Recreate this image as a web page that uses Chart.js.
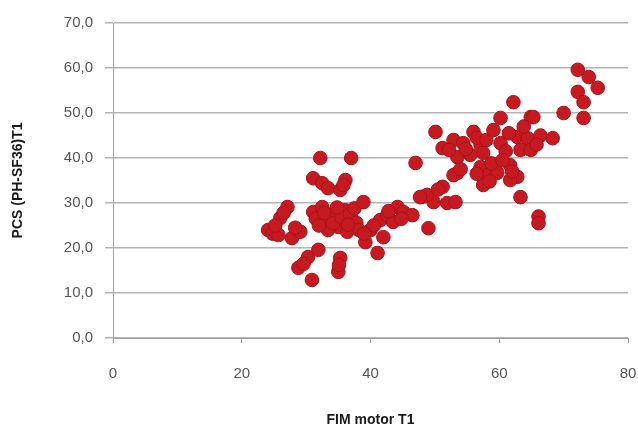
<!DOCTYPE html>
<html>
<head>
<meta charset="utf-8">
<script src="https://cdn.jsdelivr.net/npm/chart.js@4/dist/chart.umd.min.js"></script>
<style>
  html, body { margin: 0; padding: 0; background: #fff; }
  #wrap { width: 638px; height: 428px; }
</style>
</head>
<body>
<div id="wrap"><canvas id="myChart" width="638" height="428"></canvas></div>
<script>
// FIM motor T1 (x) vs PCS (PH-SF36)T1 (y)
var fimMotor = [
  24.1, 24.8, 25.7, 26.0, 27.1, 26.5, 27.8, 29.1, 28.3, 25.2,
  28.8, 30.3, 31.9, 30.9, 29.6,
  35.3, 35.0, 35.1,
  32.2, 37.0, 31.1, 32.5, 33.4, 36.1, 35.3, 35.8,
  31.1, 32.5, 33.0, 34.5, 36.1, 37.2, 35.0, 36.4, 33.4, 31.5, 32.0, 33.8, 34.2, 35.5, 36.8, 37.8, 38.2, 32.8, 34.8, 36.5, 37.5,
  38.9, 40.0, 39.2, 41.1, 42.0, 41.5, 42.6, 43.5, 44.2, 45.1, 46.5, 40.5, 39.0, 44.8, 42.8,
  47.0, 48.1, 49.8, 51.9, 53.2, 48.8, 49.0, 47.7,
  50.1, 51.2, 52.9, 54.4, 56.0, 57.1, 57.5, 55.5, 53.5, 52.2, 54.8, 56.5, 58.0,
  53.5, 51.2, 52.9, 54.0, 50.5,
  59.1, 60.2, 62.2, 64.9, 60.2, 62.8, 64.4, 63.3, 64.9, 61.5, 63.8, 65.3, 66.4, 68.3, 65.8, 61.0,
  57.1, 58.2, 57.5, 59.7, 61.7, 62.8, 61.7, 63.3, 58.8, 60.5, 62.0, 58.5, 56.5,
  66.1, 66.1,
  70.0, 72.2, 73.9, 75.3, 72.2, 73.1, 73.1
];
var pcs = [
  24.0, 23.2, 22.9, 26.7, 29.1, 27.8, 22.2, 23.6, 24.5, 25.0,
  15.6, 18.0, 19.6, 12.9, 16.5,
  17.8, 14.7, 16.2,
  40.0, 40.0, 35.5, 34.4, 33.3, 35.1, 32.9, 34.0,
  28.0, 29.1, 26.2, 28.0, 28.4, 26.2, 24.7, 23.6, 24.0, 26.5, 25.0, 27.2, 25.5, 26.8, 27.5, 25.6, 24.0, 27.8, 29.0, 25.2, 28.8,
  30.2, 24.0, 21.3, 18.9, 22.4, 26.2, 27.3, 25.8, 29.1, 28.0, 27.3, 25.0, 23.2, 26.5, 28.2,
  38.9, 31.4, 30.2, 30.0, 30.2, 31.8, 24.4, 31.3,
  45.8, 42.2, 44.0, 43.3, 45.8, 42.9, 41.1, 40.7, 40.2, 41.8, 42.0, 44.5, 44.0,
  36.7, 33.6, 36.2, 37.5, 33.0,
  46.2, 48.9, 52.4, 49.1, 43.3, 44.7, 44.4, 41.8, 41.8, 45.5, 47.0, 49.1, 45.0, 44.4, 43.0, 41.5,
  38.0, 36.2, 34.0, 36.7, 38.4, 35.8, 35.1, 31.3, 38.8, 39.5, 37.0, 34.8, 36.5,
  27.0, 25.5,
  50.0, 59.6, 58.0, 55.6, 54.7, 52.4, 48.9
];
var xTicks = [0, 20, 40, 60, 80];
var yTicks = [0, 10, 20, 30, 40, 50, 60, 70];

var points = [];
for (var i = 0; i < fimMotor.length; i++) {
  points.push({ x: fimMotor[i], y: pcs[i] });
}

var fontFam = "'Liberation Sans', Arial, sans-serif";
var ctx = document.getElementById('myChart').getContext('2d');
var chart = new Chart(ctx, {
  type: 'scatter',
  data: {
    datasets: [{
      data: points,
      backgroundColor: '#c61a20',
      borderColor: '#a8121a',
      borderWidth: 1,
      pointRadius: 6.8,
      pointHoverRadius: 6.8
    }]
  },
  options: {
    responsive: false,
    animation: false,
    layout: { padding: { top: 23, right: 10, left: 0, bottom: 0 } },
    plugins: { legend: { display: false }, tooltip: { enabled: false } },
    scales: {
      x: {
        type: 'linear',
        min: 0, max: 80,
        afterBuildTicks: function (s) { s.ticks = xTicks.map(function (v) { return { value: v }; }); },
        afterFit: function (s) { s.height = 90; s.paddingLeft = 0; s.paddingRight = 0; },
        grid: { drawOnChartArea: false, color: '#a0a0a0', tickLength: 5 },
        border: { color: '#a0a0a0', width: 1 },
        ticks: { color: '#555', padding: 22, font: { family: fontFam, size: 15 } },
        title: {
          display: true, text: 'FIM motor T1', color: '#1a1a1a',
          font: { family: fontFam, size: 14, weight: 'bold' },
          padding: { top: 26, bottom: -1 }
        }
      },
      y: {
        type: 'linear',
        min: 0, max: 70,
        afterBuildTicks: function (s) { s.ticks = yTicks.map(function (v) { return { value: v }; }); },
        afterFit: function (s) { s.width = 113; s.paddingTop = 0; s.paddingBottom = 0; },
        grid: { color: '#b4b4b4', tickLength: 8, lineWidth: 1.5 },
        border: { color: '#a0a0a0', width: 1 },
        ticks: {
          color: '#555', padding: 12, font: { family: fontFam, size: 15 },
          callback: function (v) { return v.toFixed(1).replace('.', ','); }
        },
        title: {
          display: true, text: 'PCS (PH-SF36)T1', color: '#1a1a1a',
          font: { family: fontFam, size: 14, weight: 'bold' },
          padding: { top: 10, bottom: 4 }
        }
      }
    }
  }
});
</script>
</body>
</html>
